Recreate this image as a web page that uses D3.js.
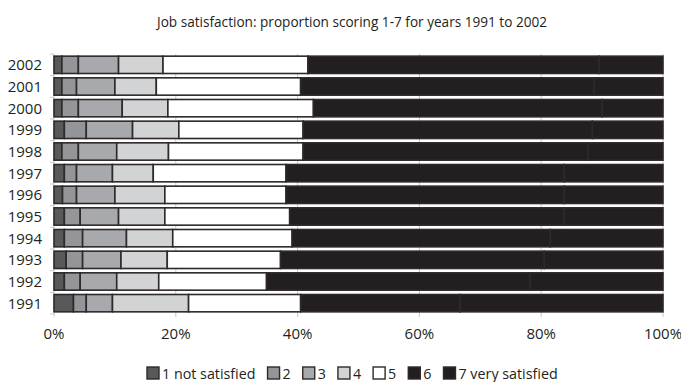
<!DOCTYPE html>
<html>
<head>
<meta charset="utf-8">
<script src="https://cdn.jsdelivr.net/npm/d3@7"></script>
<style>
  body { margin: 0; background: #fff; }
  svg text { font-family: "Open Sans", sans-serif; fill: #231f20; }
</style>
</head>
<body>
<div class="chart"></div>
<script>
// years, top to bottom as drawn
var years = ['2002', '2001', '2000', '1999', '1998', '1997', '1996', '1995', '1994', '1993', '1992', '1991'];
var scoreLabels = ['1 not satisfied', '2', '3', '4', '5', '6', '7 very satisfied'];
var tickLabels = ['0%', '20%', '40%', '60%', '80%', '100%'];

// percentage scoring 1..7, one array per score, same order as years
var s1 = [1.3, 1.3, 1.3, 1.7, 1.3, 1.7, 1.4, 1.7, 1.7, 2.0, 1.7, 3.2];
var s2 = [2.7, 2.4, 2.7, 3.6, 2.7, 2.0, 2.3, 2.6, 3.0, 2.7, 2.6, 2.1];
var s3 = [6.6, 6.3, 7.2, 7.6, 6.3, 5.9, 6.3, 6.3, 7.2, 6.3, 6.0, 4.3];
var s4 = [7.3, 6.8, 7.5, 7.6, 8.5, 6.7, 8.2, 7.6, 7.6, 7.6, 6.9, 12.5];
var s5 = [23.8, 23.7, 23.9, 20.4, 22.1, 21.8, 19.9, 20.5, 19.6, 18.6, 17.7, 18.4];
var s6 = [47.8, 48.2, 47.4, 47.5, 46.8, 45.7, 45.7, 45.1, 42.4, 43.3, 43.3, 26.2];
var s7 = [10.5, 11.3, 10.0, 11.6, 12.3, 16.2, 16.2, 16.2, 18.5, 19.5, 21.8, 33.3];

var colors = ['#58595b', '#939598', '#a7a9ac', '#d1d3d4', '#ffffff', '#231f20', '#231f20'];

var W = 681, H = 382;
var margin = { left: 54, right: 18, top: 54, bottom: 68 };

var rows = years.map(function (y, i) {
  return { year: y, s1: s1[i], s2: s2[i], s3: s3[i], s4: s4[i], s5: s5[i], s6: s6[i], s7: s7[i] };
});
var keys = ['s1', 's2', 's3', 's4', 's5', 's6', 's7'];
var stacked = d3.stack().keys(keys)(rows);

var svg = d3.select('.chart').append('svg')
  .attr('width', W)
  .attr('height', H);

var x = d3.scaleLinear().domain([0, 100]).range([margin.left, W - margin.right]);
var y = d3.scaleBand().domain(years).range([margin.top, H - margin.bottom]).paddingInner(0.2).paddingOuter(0.1);

// title
svg.append('text')
  .attr('x', 352).attr('y', 27)
  .attr('text-anchor', 'middle')
  .style('font-size', '13.6px')
  .text('Job satisfaction: proportion scoring 1-7 for years 1991 to 2002');

// gridlines
svg.append('g')
  .selectAll('line')
  .data(d3.range(0, 101, 20))
  .enter().append('line')
    .attr('x1', d => x(d)).attr('x2', d => x(d))
    .attr('y1', margin.top).attr('y2', H - margin.bottom + 3)
    .attr('stroke', '#c8c8c8').attr('stroke-width', 1);

// y tick marks at band edges
var step = y.step();
svg.append('g')
  .selectAll('line')
  .data(d3.range(years.length + 1))
  .enter().append('line')
    .attr('x1', margin.left - 4).attr('x2', margin.left)
    .attr('y1', d => margin.top + d * step).attr('y2', d => margin.top + d * step)
    .attr('stroke', '#c8c8c8');

// bars
var layer = svg.append('g')
  .selectAll('g')
  .data(stacked)
  .enter().append('g')
    .attr('fill', (d, i) => colors[i]);

layer.selectAll('rect')
  .data(d => d)
  .enter().append('rect')
    .attr('x', d => x(d[0]))
    .attr('width', d => x(d[1]) - x(d[0]))
    .attr('y', d => y(d.data.year))
    .attr('height', y.bandwidth())
    .attr('stroke', '#2e2a2b')
    .attr('stroke-width', 1.6);

// year labels
svg.append('g')
  .selectAll('text')
  .data(years)
  .enter().append('text')
    .attr('x', 42)
    .attr('y', d => y(d) + y.bandwidth() / 2)
    .attr('dy', '0.36em')
    .attr('text-anchor', 'end')
    .style('font-size', '15px')
    .text(d => d);

// x tick labels
svg.append('g')
  .selectAll('text')
  .data(tickLabels)
  .enter().append('text')
    .attr('x', (d, i) => x(i * 20))
    .attr('y', 339)
    .attr('text-anchor', 'middle')
    .style('font-size', '15px')
    .text(d => d);

// legend
var legend = svg.append('g').attr('transform', 'translate(147, 367)');
var lx = 0;
scoreLabels.forEach(function (lab, i) {
  var g = legend.append('g').attr('transform', 'translate(' + lx + ',0)');
  g.append('rect')
    .attr('width', 12).attr('height', 12)
    .attr('fill', colors[i])
    .attr('stroke', '#2e2a2b').attr('stroke-width', 1.4);
  var t = g.append('text')
    .attr('x', 15).attr('y', 11.5)
    .style('font-size', '14.3px')
    .text(lab);
  lx += 15 + t.node().getComputedTextLength() + 12;
});
</script>
</body>
</html>
